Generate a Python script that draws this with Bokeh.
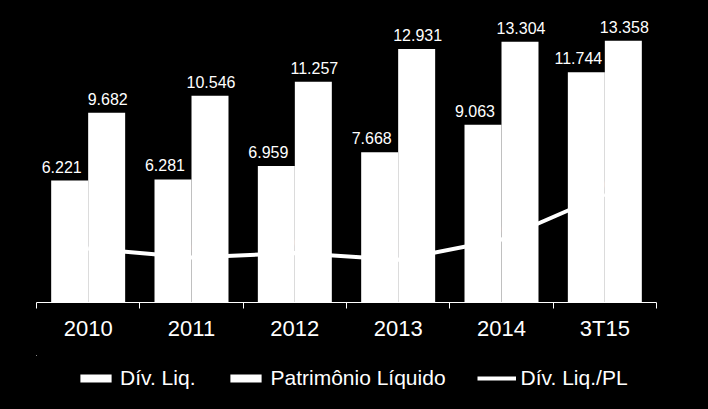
import numpy as np
from bokeh.plotting import figure
from bokeh.layouts import column
from bokeh.models import (ColumnDataSource, Range1d, FixedTicker, LinearAxis,
                          Legend, LegendItem, LabelSet)
from bokeh.core.properties import value
from bokeh.transform import dodge
from bokeh.embed import file_html
from bokeh.resources import INLINE

categories = ["2010", "2011", "2012", "2013", "2014", "3T15"]
div_liq = [6221, 6281, 6959, 7668, 9063, 11744]
patrimonio = [9682, 10546, 11257, 12931, 13304, 13358]
ratio = [0.64, 0.60, 0.62, 0.59, 0.68, 0.88]
series_names = ["Dív. Liq.", "Patrimônio Líquido", "Dív. Liq./PL"]

FONT = "Liberation Sans"

idx = np.arange(len(categories)) + 0.5
src = ColumnDataSource(dict(
    x=idx,
    div=div_liq,
    pl=patrimonio,
    ratio=ratio,
    div_lbl=[f"{v/1000:.3f}" for v in div_liq],
    pl_lbl=[f"{v/1000:.3f}" for v in patrimonio],
    ratio_lbl=[f"{v:.2f}".replace(".", ",") + "x" for v in ratio],
))

def styled(fig):
    fig.background_fill_color = "black"
    fig.border_fill_color = "black"
    fig.outline_line_color = None
    fig.xgrid.visible = False
    fig.ygrid.visible = False
    return fig

p = styled(figure(frame_width=620, frame_height=294, output_backend="svg",
                  toolbar_location=None,
                  x_range=Range1d(0, len(categories)), y_range=Range1d(0, 15000),
                  min_border_left=36, min_border_right=52, min_border_top=8,
                  min_border_bottom=53, x_axis_type=None, y_axis_type=None))
p.extra_y_ranges = {"ratio": Range1d(0.4, 1.707)}

bw = 0.358
p.vbar(x=dodge("x", -bw / 2, range=p.x_range), top="div", width=bw,
       source=src, fill_color="white", line_color=None)
p.vbar(x=dodge("x", bw / 2, range=p.x_range), top="pl", width=bw,
       source=src, fill_color="white", line_color=None)
p.line(x="x", y="ratio", source=src, y_range_name="ratio",
       line_color="white", line_width=4)

# value labels
p.add_layout(LabelSet(x=dodge("x", -bw / 2, range=p.x_range), y="div", text="div_lbl",
                      source=src, text_align="center", text_baseline="alphabetic",
                      y_offset=8, x_offset=-8, text_color="white",
                      text_font=value(FONT), text_font_size="16px"))
p.add_layout(LabelSet(x=dodge("x", bw / 2, range=p.x_range), y="pl", text="pl_lbl",
                      source=src, text_align="center", text_baseline="alphabetic",
                      y_offset=8, x_offset=1, text_color="white",
                      text_font=value(FONT), text_font_size="16px"))
p.add_layout(LabelSet(x="x", y="ratio", y_range_name="ratio", text="ratio_lbl",
                      source=src, text_align="left", text_baseline="alphabetic",
                      y_offset=4, x_offset=-10, text_color="white",
                      text_font=value(FONT), text_font_size="18px",
                      text_font_style="bold"))

# x axis with ticks at category boundaries
ax = LinearAxis(
    ticker=FixedTicker(ticks=list(idx), minor_ticks=list(range(len(categories) + 1))),
    major_label_overrides={float(x): c for x, c in zip(idx, categories)},
    axis_line_color="white", axis_line_width=1,
    major_tick_line_color=None, major_tick_in=0, major_tick_out=0,
    minor_tick_line_color="white", minor_tick_in=0, minor_tick_out=6,
    major_label_text_color="white", major_label_text_font=FONT,
    major_label_text_font_size="22px", major_label_standoff=7,
)
p.add_layout(ax, "below")

# legend strip: a second figure whose ranges keep the key renderers fully out of view
lg = styled(figure(frame_width=620, frame_height=54, output_backend="svg",
                   toolbar_location=None,
                   x_range=Range1d(100, 101), y_range=Range1d(-2, -1),
                   min_border_left=36, min_border_right=52, min_border_top=0,
                   min_border_bottom=0, x_axis_type=None, y_axis_type=None))
k_div = lg.vbar(x="x", top="div", width=bw, source=src, fill_color="white", line_color=None)
k_pl = lg.vbar(x="x", top="pl", width=bw, source=src, fill_color="white", line_color=None)
k_line = lg.line(x="x", y="ratio", source=src, line_color="white", line_width=4)

legend = Legend(items=[
    LegendItem(label=series_names[0], renderers=[k_div]),
    LegendItem(label=series_names[1], renderers=[k_pl]),
    LegendItem(label=series_names[2], renderers=[k_line]),
], orientation="horizontal", location=(40, 19),
    background_fill_color="black", background_fill_alpha=1, border_line_color=None,
    label_text_color="white", label_text_font=FONT, label_text_font_size="21px",
    glyph_width=39, glyph_height=10, label_standoff=5, spacing=31,
    padding=5, margin=0)
lg.add_layout(legend)

layout = column(p, lg, spacing=0)

html = file_html(layout, INLINE)
html = html.replace("<head>", "<head><style>html, body { margin: 0; padding: 0; "
                    "background: #000; }</style>", 1)
open("out.html", "w").write(html)
